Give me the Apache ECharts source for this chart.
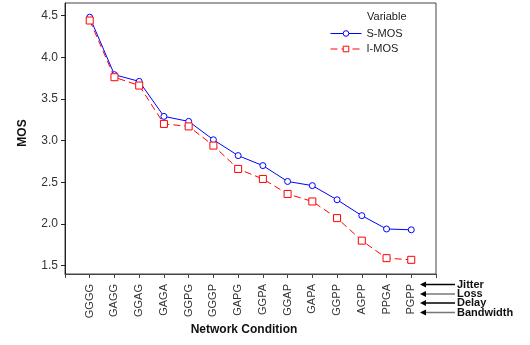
<!DOCTYPE html>
<html>
<head>
<meta charset="utf-8">
<script src="https://cdn.jsdelivr.net/npm/echarts@6/dist/echarts.min.js"></script>
<style>html,body{margin:0;padding:0;background:#fff}#c{width:530px;height:345px}</style>
</head>
<body>
<div id="c"></div>
<script>
var categories = ['GGGG','GAGG','GGAG','GAGA','GGPG','GGGP','GAPG','GGPA','GGAP','GAPA','GGPP','AGPP','PPGA','PGPP'];
var sMOS = [4.48, 3.79, 3.71, 3.29, 3.23, 3.01, 2.82, 2.70, 2.51, 2.46, 2.29, 2.10, 1.94, 1.93];
var iMOS = [4.44, 3.76, 3.66, 3.20, 3.17, 2.94, 2.66, 2.54, 2.36, 2.27, 2.07, 1.80, 1.59, 1.57];
var yTicks = [1.5, 2.0, 2.5, 3.0, 3.5, 4.0, 4.5];
var factorLabels = ['Jitter','Loss','Delay','Bandwidth'];

var font = 'Liberation Sans, Arial, sans-serif';
var cats = [''].concat(categories).concat(['']);
var sData = [null].concat(sMOS).concat([null]);
var iData = [null].concat(iMOS).concat([null]);

var chart = echarts.init(document.getElementById('c'));

var graphics = [
  {type:'text', left: 367, top: 11, style:{text:'Variable', font:'11px ' + font, fill:'#222'}},
  {type:'text', x: 22.5, y: 133, rotation: Math.PI/2, style:{text:'MOS', font:'bold 12px ' + font, fill:'#111', align:'center', verticalAlign:'middle'}},
  {type:'text', x: 244, y: 330, style:{text:'Network Condition', font:'bold 12px ' + font, fill:'#111', align:'center', verticalAlign:'middle'}}
];
var arrowY = [284.5, 294, 303, 312.5];
var arrowCol = ['#000', '#777', '#000', '#777'];
factorLabels.forEach(function(t, i){
  var y = arrowY[i];
  graphics.push({type:'line', shape:{x1:422, y1:y, x2:455, y2:y}, style:{stroke:arrowCol[i], lineWidth:1.5}});
  graphics.push({type:'polygon', shape:{points:[[420,y],[426,y-3],[426,y+3]]}, style:{fill:'#000'}});
  graphics.push({type:'text', x: 457, y: y, style:{text:t, font:'bold 11px ' + font, fill:'#111', verticalAlign:'middle'}});
});

chart.setOption({
  animation: false,
  grid: {left: 65, top: 3, right: 94, bottom: 71, show: true, borderColor: '#444', borderWidth: 1},
  legend: {
    orient: 'vertical', left: 325, top: 23, itemWidth: 31, itemHeight: 7, itemGap: 4.5, padding: 5,
    textStyle: {fontFamily: font, fontSize: 11, color: '#222'},
    data: [
      {name: 'S-MOS', lineStyle: {color: '#0000ff', width: 1}, itemStyle: {color: '#fff', borderColor: '#0000ff', borderWidth: 1}},
      {name: 'I-MOS', lineStyle: {color: '#ff0000', width: 1, type: [7, 4]}, itemStyle: {color: '#fff', borderColor: '#ff0000', borderWidth: 1}}
    ]
  },
  xAxis: {
    type: 'category', data: cats, boundaryGap: false,
    axisLine: {lineStyle: {color: '#444'}},
    axisTick: {length: 4, lineStyle: {color: '#444'}, interval: 0},
    axisLabel: {rotate: 90, interval: 0, margin: 10, fontFamily: font, fontSize: 11, color: '#333'},
    splitLine: {show: false}
  },
  yAxis: {
    type: 'value', min: 1.4, max: 4.65,
    axisLine: {show: true, lineStyle: {color: '#222'}},
    axisTick: {show: true, length: 4, lineStyle: {color: '#222'}, customValues: yTicks},
    axisLabel: {fontFamily: font, fontSize: 12, color: '#333', margin: 7, customValues: yTicks,
      formatter: function(v){ return v.toFixed(1); }},
    splitLine: {show: false}
  },
  graphic: graphics,
  series: [
    {name: 'S-MOS', type: 'line', data: sData, symbol: 'circle', symbolSize: 6, showSymbol: true,
      itemStyle: {color: '#fff', borderColor: '#0000ff', borderWidth: 1},
      lineStyle: {color: '#0000ff', width: 1}, color: '#0000ff', connectNulls: false},
    {name: 'I-MOS', type: 'line', data: iData, symbol: 'rect', symbolSize: 7, showSymbol: true,
      itemStyle: {color: '#fff', borderColor: '#ff0000', borderWidth: 1},
      lineStyle: {color: '#ff0000', width: 1, type: [7, 4]}, color: '#ff0000', connectNulls: false}
  ]
});
</script>
</body>
</html>
